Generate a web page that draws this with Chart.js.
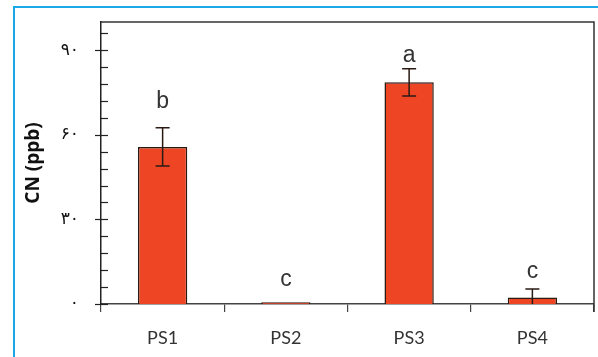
<!DOCTYPE html>
<html><head><meta charset="utf-8">
<script src="https://cdn.jsdelivr.net/npm/chart.js@4/dist/chart.umd.min.js"></script>
<style>
html,body{margin:0;padding:0;background:#fff;}
#wrap{position:relative;width:598px;height:357px;overflow:hidden;}
#frame{position:absolute;left:13px;top:6px;width:600px;height:400px;border-top:2px solid #1aa9e6;border-left:2px solid #1aa9e6;}
canvas{position:absolute;left:0;top:0;}
</style></head>
<body><div id="wrap"><div id="frame"></div><canvas id="c" width="598" height="357"></canvas></div>
<script>
const categories = ['PS1','PS2','PS3','PS4'];
const values = [55.7, 0.6, 78.6, 2.3];
const errors = [6.8, 0.2, 4.8, 3.0];
const letters = ['b','c','a','c'];
const letterValues = [71.8, 8.6, 87.9, 11.4];
const yTicks = [0, 30, 60, 90];

const persian = s => String(s).replace(/[0-9]/g, d => '۰۱۲۳۴۵۶۷۸۹'[d]);

const extras = {
  id: 'extras',
  afterDatasetsDraw(chart) {
    const ctx = chart.ctx, y = chart.scales.y, x = chart.scales.x, a = chart.chartArea;
    ctx.save();
    ctx.strokeStyle = '#333'; ctx.lineWidth = 1.5;
    ctx.beginPath();
    ctx.moveTo(a.left, a.top); ctx.lineTo(a.right, a.top); ctx.lineTo(a.right, a.bottom + 8);
    ctx.stroke();
    ctx.lineWidth = 1.2; ctx.strokeStyle = '#222';
    for (let v = 0; v <= y.max + 0.001; v += 6) {
      const py = Math.round(y.getPixelForValue(v)) + 0.5;
      const major = v % 30 === 0;
      ctx.beginPath();
      ctx.moveTo(a.left - (major ? 6 : 0), py); ctx.lineTo(a.left + 7, py);
      ctx.stroke();
    }
    ctx.strokeStyle = '#2a1a14'; ctx.lineWidth = 1.5;
    values.forEach((v, i) => {
      if (errors[i] < 0.5) return;
      const px = x.getPixelForValue(i);
      const top = y.getPixelForValue(v + errors[i]);
      const bot = y.getPixelForValue(Math.max(0, v - errors[i]));
      ctx.beginPath();
      ctx.moveTo(px, top); ctx.lineTo(px, bot);
      ctx.moveTo(px - 7, top); ctx.lineTo(px + 7, top);
      if (v - errors[i] > 0) { ctx.moveTo(px - 7, bot); ctx.lineTo(px + 7, bot); }
      ctx.stroke();
    });
    ctx.fillStyle = '#333'; ctx.font = '23px "Liberation Sans Narrow", "Arial Narrow", "Liberation Sans", sans-serif';
    ctx.textAlign = 'center'; ctx.textBaseline = 'middle';
    letters.forEach((t, i) => {
      ctx.fillText(t, x.getPixelForValue(i), y.getPixelForValue(letterValues[i]));
    });
    ctx.restore();
  }
};

new Chart(document.getElementById('c'), {
  type: 'bar',
  data: {
    labels: categories,
    datasets: [{
      data: values,
      backgroundColor: '#ee4524',
      borderColor: '#2a1a14',
      borderWidth: 1.5,
      barPercentage: 0.4,
      categoryPercentage: 1
    }]
  },
  options: {
    responsive: false,
    animation: false,
    events: [],
    layout: { padding: { left: 22, right: 4, top: 22, bottom: 0 } },
    plugins: { legend: { display: false }, tooltip: { enabled: false } },
    scales: {
      x: {
        grid: { offset: true, drawOnChartArea: false, drawTicks: true, tickLength: 8, color: '#444', lineWidth: 1.2 },
        border: { display: true, color: '#444', width: 1.5 },
        ticks: { color: '#333', font: { family: 'Lato, "Open Sans", sans-serif', size: 18 }, padding: 15 },
        afterFit(s) { s.height = 53; s.paddingLeft = 0; s.paddingRight = 0; }
      },
      y: {
        min: 0, max: 100,
        afterBuildTicks(s) { s.ticks = yTicks.map(v => ({ value: v })); },
        grid: { display: false, drawTicks: false },
        border: { display: true, color: '#222', width: 1.5 },
        ticks: { color: '#111', padding: 22, font: { family: '"DejaVu Sans", sans-serif', size: 17 },
          callback: v => persian(v) },
        title: { display: true, text: 'CN (ppb)', color: '#111', font: { family: '"Open Sans", sans-serif', size: 19, weight: 'bold' }, padding: { top: 0, bottom: 0 } },
        afterFit(s) { s.width = 79; s.paddingTop = 0; s.paddingBottom = 0; }
      }
    }
  },
  plugins: [extras]
});
</script></body></html>
